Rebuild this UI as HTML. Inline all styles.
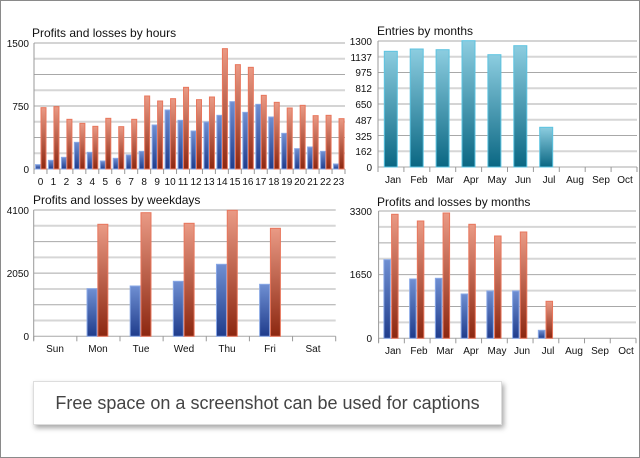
<!DOCTYPE html>
<html><head><meta charset="utf-8"><style>
html,body{margin:0;padding:0;background:#fff}
#wrap{position:relative;width:638px;height:456px;border:1px solid #8a8a8a;overflow:hidden}
svg{position:absolute;left:0;top:0}
text{font-family:"Liberation Sans",sans-serif;fill:#111}
.t{font-size:12px}
.l{font-size:10px}
#cap{position:absolute;left:32px;top:380px;width:467px;height:42px;border:1px solid #ddd;background:#fff;box-shadow:2px 3px 5px rgba(0,0,0,.35);font-family:"Liberation Sans",sans-serif;font-size:18px;color:#444;text-align:center;line-height:42px}
</style></head><body><div id="wrap">
<svg id="s" width="640" height="458" xmlns="http://www.w3.org/2000/svg">
<defs>
<linearGradient id="gb" x1="0" y1="0" x2="0" y2="1"><stop offset="0" stop-color="#6f8fd2"/><stop offset="1" stop-color="#1f3c8c"/></linearGradient>
<linearGradient id="gr" x1="0" y1="0" x2="0" y2="1"><stop offset="0" stop-color="#ea9a85"/><stop offset="1" stop-color="#8c2710"/></linearGradient>
<linearGradient id="gt" x1="0" y1="0" x2="0" y2="1"><stop offset="0" stop-color="#8ccde0"/><stop offset="1" stop-color="#0a6783"/></linearGradient>
</defs>
<g id="grid"></g><g id="bars"></g>
<text class="t" x="31" y="36">Profits and losses by hours</text>
<text class="t" x="376" y="34">Entries by months</text>
<text class="t" x="32" y="203">Profits and losses by weekdays</text>
<text class="t" x="376" y="205">Profits and losses by months</text>
<g class="l" text-anchor="end">
<text x="28" y="46">1500</text><text x="28" y="109">750</text><text x="28" y="172">0</text>
<text x="371" y="44">1300</text><text x="371" y="60">1137</text><text x="371" y="75">975</text><text x="371" y="91">812</text><text x="371" y="107">650</text><text x="371" y="123">487</text><text x="371" y="139">325</text><text x="371" y="154">162</text><text x="371" y="170">0</text>
<text x="28" y="213">4100</text><text x="28" y="276">2050</text><text x="28" y="339">0</text>
<text x="371" y="214">3300</text><text x="371" y="277">1650</text><text x="371" y="341">0</text>
</g>
<g class="l" text-anchor="middle">
<text x="39.5" y="184">0</text><text x="52.4" y="184">1</text><text x="65.4" y="184">2</text><text x="78.4" y="184">3</text><text x="91.3" y="184">4</text><text x="104.3" y="184">5</text><text x="117.3" y="184">6</text><text x="130.2" y="184">7</text><text x="143.2" y="184">8</text><text x="156.1" y="184">9</text><text x="169.1" y="184">10</text><text x="182.1" y="184">11</text><text x="195" y="184">12</text><text x="208" y="184">13</text><text x="221" y="184">14</text><text x="233.9" y="184">15</text><text x="246.9" y="184">16</text><text x="259.8" y="184">17</text><text x="272.8" y="184">18</text><text x="285.8" y="184">19</text><text x="298.7" y="184">20</text><text x="311.7" y="184">21</text><text x="324.6" y="184">22</text><text x="337.6" y="184">23</text>
<text x="392" y="182">Jan</text><text x="418" y="182">Feb</text><text x="444" y="182">Mar</text><text x="470" y="182">Apr</text><text x="496" y="182">May</text><text x="522" y="182">Jun</text><text x="548" y="182">Jul</text><text x="574" y="182">Aug</text><text x="600" y="182">Sep</text><text x="624" y="182">Oct</text>
<text x="54" y="351">Sun</text><text x="97" y="351">Mon</text><text x="140" y="351">Tue</text><text x="183" y="351">Wed</text><text x="226" y="351">Thu</text><text x="269" y="351">Fri</text><text x="312" y="351">Sat</text>
<text x="392" y="353">Jan</text><text x="418" y="353">Feb</text><text x="444" y="353">Mar</text><text x="470" y="353">Apr</text><text x="496" y="353">May</text><text x="521" y="353">Jun</text><text x="547" y="353">Jul</text><text x="573" y="353">Aug</text><text x="599" y="353">Sep</text><text x="625" y="353">Oct</text>
</g>
</svg>
<div id="cap">Free space on a screenshot can be used for captions</div>
</div>
<script>
var NS="http://www.w3.org/2000/svg",G=document.getElementById("grid"),B=document.getElementById("bars");
function el(p,tag,a){var e=document.createElementNS(NS,tag);for(var k in a)e.setAttribute(k,a[k]);p.appendChild(e);return e;}
function chart(x0,x1,yt,yb,n){
 for(var i=0;i<=8;i++){var y=yt+(yb-yt)*i/8;el(G,"line",{x1:x0,x2:x1,y1:y,y2:y,stroke:i%2?"#d6d6d6":"#a8a8a8","stroke-width":i%2?2:1});}
 el(G,"line",{x1:x0,x2:x0,y1:yt,y2:yb+4,stroke:"#999"});
 var w=(x1-x0)/n;for(var j=0;j<=n;j++){var x=x0+j*w;el(G,"line",{x1:x,x2:x,y1:yb,y2:yb+5,stroke:"#999"});}
 return w;}
function bar(x,w,top,bot,fill,st){el(B,"rect",{x:x,y:top,width:w,height:bot-top,fill:fill,stroke:st,"stroke-width":1});}
// chart 1
var w1=chart(33,344,42,168,24);
var rz=[320,317,355,367,376,352,377,355,285,300,293,259,296,288,143,191,199,283,304,321,313,344,343,353];
var bz=[491,478,469,424,454,480,472,462,451,372,327,358,390,363,343,302,334,310,348,397,443,438,451,489];
for(var i=0;i<24;i++){var l=33+i*w1;bar(l+1.5,5,bz[i]/3,168,"url(#gb)","#89a8e6");bar(l+7,5,rz[i]/3,168,"url(#gr)","#e8765c");}
// chart 2
var w2=chart(377,636,40,166,10);
var tz=[50.3,48,48.7,39.7,53.7,44.7,126.3];
for(var i=0;i<7;i++)bar(377+i*w2+6.3,13,tz[i],166,"url(#gt)","#5cc3e0");
// chart 3
var w3=chart(32.7,334.7,209,335.3,7);
var b3=[287.7,285,280.3,263.3,283.3],r3=[223.3,211.7,222.3,209.3,227.3];
for(var i=0;i<5;i++){var l=32.7+(i+1)*w3;bar(l+10.2,10,b3[i],335.3,"url(#gb)","#89a8e6");bar(l+21,10,r3[i],335.3,"url(#gr)","#e8765c");}
// chart 4
var w4=chart(377.6,635,210,337.3,10);
var b4=[258.7,278,277.3,293,290,290,329.3],r4=[213.3,220,212,223.3,235,231,300.3];
for(var i=0;i<7;i++){var l=377.6+i*w4;bar(l+5.3,6.5,b4[i],337.3,"url(#gb)","#89a8e6");bar(l+13,6.5,r4[i],337.3,"url(#gr)","#e8765c");}
</script>
</body></html>
